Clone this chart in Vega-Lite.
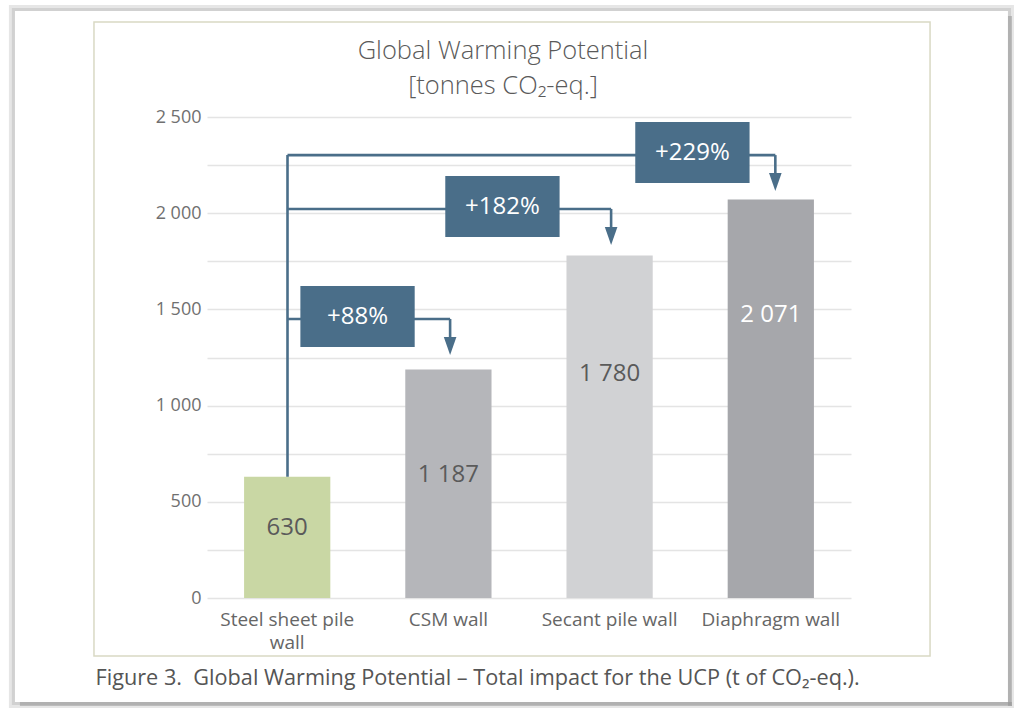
{
  "$schema": "https://vega.github.io/schema/vega-lite/v6.json",
  "description": "Global Warming Potential of four retaining wall types, tonnes CO2-eq.",
  "width": 644,
  "height": 481,
  "autosize": {"type": "none"},
  "padding": {"left": 207, "top": 117, "right": 173, "bottom": 115},
  "background": "white",
  "title": {
    "text": ["Global Warming Potential", "[tonnes CO₂-eq.]"],
    "anchor": "middle",
    "baseline": "bottom",
    "dx": -26,
    "offset": -120,
    "fontSize": 25.5,
    "font": "Open Sans",
    "fontWeight": 300,
    "color": "#5a5a5a",
    "lineHeight": 35
  },
  "config": {
    "locale": {"number": {"decimal": ",", "thousands": " ", "grouping": [3], "currency": ["", ""]}},
    "view": {"stroke": null},
    "font": "Open Sans"
  },
  "resolve": {"scale": {"x": "independent"}},
  "layer": [
    {
      "data": {"name": "bars", "values": [
        {"wall": "Steel sheet pile wall", "value": 630, "label_at": 364},
        {"wall": "CSM wall", "value": 1187, "label_at": 639},
        {"wall": "Secant pile wall", "value": 1780, "label_at": 1164},
        {"wall": "Diaphragm wall", "value": 2071, "label_at": 1471}
      ]},
      "layer": [
        {
          "mark": {"type": "bar"},
          "encoding": {
            "x": {
              "field": "wall", "type": "nominal", "sort": null,
              "scale": {"paddingInner": 0.465, "paddingOuter": 0.23},
              "axis": {
                "labelAngle": 0,
                "labelFontSize": 19,
                "labelColor": "#666666",
                "labelPadding": 12,
                "labelLineHeight": 23,
                "labelExpr": "datum.label == 'Steel sheet pile wall' ? ['Steel sheet pile', 'wall'] : datum.label",
                "ticks": false,
                "domain": false,
                "title": "Figure 3.\u00a0 Global Warming Potential – Total impact for the UCP (t of CO₂-eq.).",
                "titleFontSize": 21.7,
                "titleFontWeight": "normal",
                "titleColor": "#555555",
                "titleAnchor": "start",
                "titleAlign": "left",
                "titleBaseline": "middle",
                "titleX": -112,
                "titleY": 79
              }
            },
            "y": {
              "field": "value", "type": "quantitative",
              "scale": {"domain": [0, 2500], "nice": false},
              "axis": {
                "values": [0, 250, 500, 750, 1000, 1250, 1500, 1750, 2000, 2250, 2500],
                "labelExpr": "datum.value % 500 == 0 ? datum.label : ''",
                "format": ",d",
                "title": null,
                "ticks": false,
                "domain": false,
                "labelFontSize": 18,
                "labelColor": "#707070",
                "labelPadding": 6,
                "gridColor": "#e4e4e4",
                "gridWidth": 1.5
              }
            },
            "color": {
              "field": "wall", "type": "nominal", "legend": null,
              "scale": {
                "domain": ["Steel sheet pile wall", "CSM wall", "Secant pile wall", "Diaphragm wall"],
                "range": ["#c9d7a4", "#b5b6ba", "#d1d2d4", "#a6a7ab"]
              }
            }
          }
        },
        {
          "mark": {"type": "text", "fontSize": 24, "baseline": "middle"},
          "encoding": {
            "x": {"field": "wall", "type": "nominal", "sort": null},
            "y": {"field": "label_at", "type": "quantitative", "scale": {"domain": [0, 2500], "nice": false}},
            "text": {"field": "value", "type": "quantitative", "format": ",d"},
            "color": {
              "condition": {"test": "datum.wall == 'Diaphragm wall'", "value": "#ffffff"},
              "value": "#5a5a5a"
            }
          }
        }
      ]
    },
    {
      "data": {"values": [
        {"x": -1.2116, "x2": 4.9936, "y": 3066.6, "y2": -556.1}
      ]},
      "mark": {"type": "rect", "fill": "transparent", "stroke": "#d6d6d6", "strokeWidth": 6, "strokeOpacity": 0.6},
      "encoding": {
        "x": {"field": "x", "type": "quantitative", "scale": {"domain": [0, 4], "nice": false, "zero": false}, "axis": null},
        "x2": {"field": "x2"},
        "y": {"field": "y", "type": "quantitative", "scale": {"domain": [0, 2500], "nice": false}},
        "y2": {"field": "y2"}
      }
    },
    {
      "data": {"values": [
        {"x": -1.2023, "x2": 4.9843, "y": 3058.8, "y2": -548.3}
      ]},
      "mark": {"type": "rect", "fill": "transparent", "stroke": "#bbbbbb", "strokeWidth": 3, "strokeOpacity": 0.5},
      "encoding": {
        "x": {"field": "x", "type": "quantitative", "scale": {"domain": [0, 4], "nice": false, "zero": false}, "axis": null},
        "x2": {"field": "x2"},
        "y": {"field": "y", "type": "quantitative", "scale": {"domain": [0, 2500], "nice": false}},
        "y2": {"field": "y2"}
      }
    },
    {
      "data": {"values": [
        {"x": 4.975, "x2": 5.0, "y": 3025, "y2": -561},
        {"x": -1.162, "x2": 5.0, "y": -540.5, "y2": -561}
      ]},
      "mark": {"type": "rect", "fill": "#8a8a8a", "opacity": 0.45},
      "encoding": {
        "x": {"field": "x", "type": "quantitative", "scale": {"domain": [0, 4], "nice": false, "zero": false}, "axis": null},
        "x2": {"field": "x2"},
        "y": {"field": "y", "type": "quantitative", "scale": {"domain": [0, 2500], "nice": false}},
        "y2": {"field": "y2"}
      }
    },
    {
      "data": {"values": [
        {"x": -0.702, "x2": 4.491, "y": 2994, "y2": -301}
      ]},
      "mark": {"type": "rect", "fill": "transparent", "stroke": "#d9d9c4", "strokeWidth": 1.5},
      "encoding": {
        "x": {"field": "x", "type": "quantitative", "scale": {"domain": [0, 4], "nice": false, "zero": false}, "axis": null},
        "x2": {"field": "x2"},
        "y": {"field": "y", "type": "quantitative", "scale": {"domain": [0, 2500], "nice": false}},
        "y2": {"field": "y2"}
      }
    },
    {
      "data": {"values": [
        {"x": 0.5, "x2": 0.5, "y": 630, "y2": 2302},
        {"x": 0.5, "x2": 3.53, "y": 2302, "y2": 2302},
        {"x": 3.53, "x2": 3.53, "y": 2302, "y2": 2162},
        {"x": 0.5, "x2": 2.51, "y": 2022, "y2": 2022},
        {"x": 2.51, "x2": 2.51, "y": 2022, "y2": 1881},
        {"x": 0.5, "x2": 1.51, "y": 1450, "y2": 1450},
        {"x": 1.51, "x2": 1.51, "y": 1450, "y2": 1310}
      ]},
      "mark": {"type": "rule", "color": "#4a6e89", "strokeWidth": 2.6},
      "encoding": {
        "x": {"field": "x", "type": "quantitative", "scale": {"domain": [0, 4], "nice": false, "zero": false}, "axis": null},
        "x2": {"field": "x2"},
        "y": {"field": "y", "type": "quantitative", "scale": {"domain": [0, 2500], "nice": false}},
        "y2": {"field": "y2"}
      }
    },
    {
      "data": {"values": [
        {"x": 3.53, "y": 2162},
        {"x": 2.51, "y": 1881},
        {"x": 1.51, "y": 1310}
      ]},
      "mark": {"type": "point", "shape": "M-0.7,-1L0.7,-1L0,1Z", "size": 324, "filled": true, "color": "#4a6e89", "opacity": 1},
      "encoding": {
        "x": {"field": "x", "type": "quantitative", "scale": {"domain": [0, 4], "nice": false, "zero": false}, "axis": null},
        "y": {"field": "y", "type": "quantitative", "scale": {"domain": [0, 2500], "nice": false}}
      }
    },
    {
      "data": {"values": [
        {"label": "+229%", "x": 2.66, "x2": 3.37, "y": 2157, "y2": 2474, "cx": 3.015, "cy": 2312},
        {"label": "+182%", "x": 1.48, "x2": 2.19, "y": 1876, "y2": 2193, "cx": 1.835, "cy": 2032},
        {"label": "+88%", "x": 0.58, "x2": 1.29, "y": 1305, "y2": 1622, "cx": 0.935, "cy": 1461}
      ]},
      "layer": [
        {
          "mark": {"type": "rect", "color": "#4a6e89"},
          "encoding": {
            "x": {"field": "x", "type": "quantitative", "scale": {"domain": [0, 4], "nice": false, "zero": false}, "axis": null},
            "x2": {"field": "x2"},
            "y": {"field": "y", "type": "quantitative", "scale": {"domain": [0, 2500], "nice": false}},
            "y2": {"field": "y2"}
          }
        },
        {
          "mark": {"type": "text", "fontSize": 24, "color": "#ffffff", "baseline": "middle"},
          "encoding": {
            "x": {"field": "cx", "type": "quantitative", "scale": {"domain": [0, 4], "nice": false, "zero": false}, "axis": null},
            "y": {"field": "cy", "type": "quantitative", "scale": {"domain": [0, 2500], "nice": false}},
            "text": {"field": "label"}
          }
        }
      ]
    }
  ]
}
